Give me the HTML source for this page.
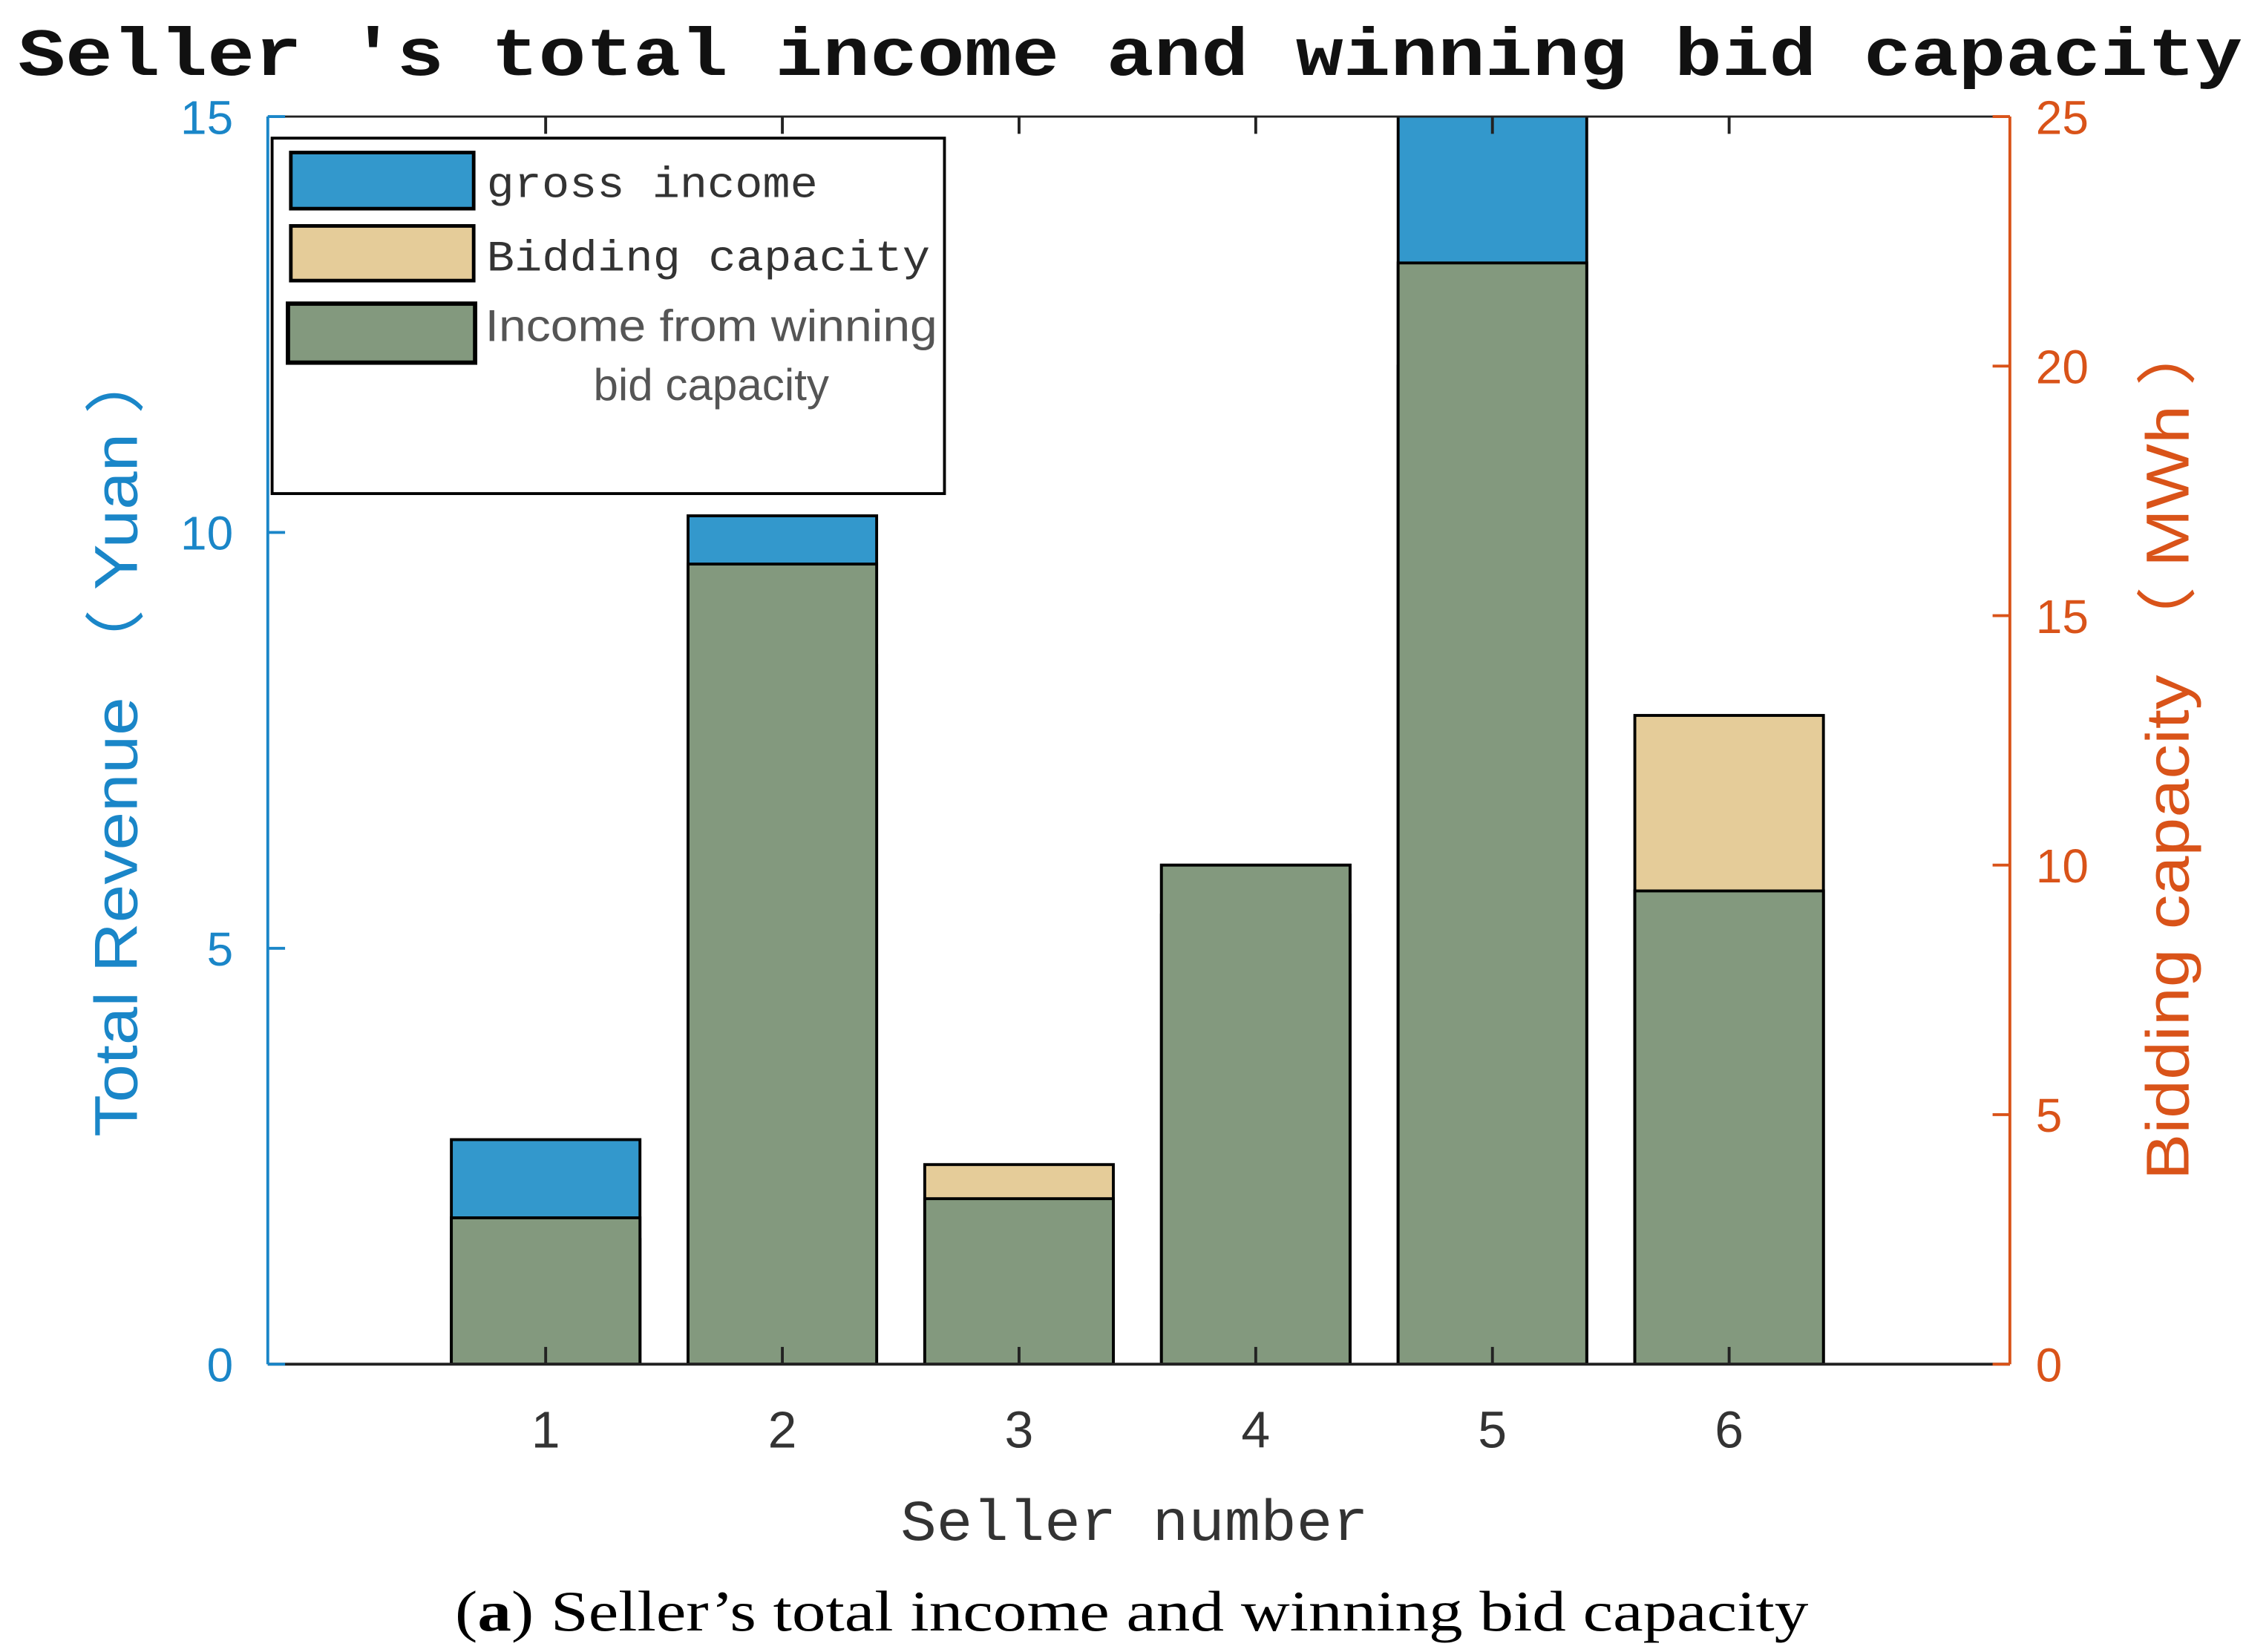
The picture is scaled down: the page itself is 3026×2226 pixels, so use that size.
<!DOCTYPE html>
<html><head><meta charset="utf-8"><style>
html,body{margin:0;padding:0;background:#fff;}
svg{display:block;}
</style></head><body>
<svg id="chart" width="3026" height="2226" viewBox="0 0 1560 1148" preserveAspectRatio="none" xmlns="http://www.w3.org/2000/svg">
<rect width="1560" height="1148" fill="#fff"/>
<text x="785" y="52" text-anchor="middle" font-family="'Liberation Mono', monospace" font-weight="bold" font-size="47" fill="#111" textLength="1545" lengthAdjust="spacingAndGlyphs">Seller 's total income and winning bid capacity</text>
<g id="bars"></g>
<g id="axes"></g>
<g>
<rect x="189" y="96" width="467" height="247" fill="#fff" stroke="#000" stroke-width="2"/>
<rect x="202" y="106" width="127" height="39" fill="#3398cc" stroke="#000" stroke-width="2.5"/>
<text x="338" y="137" font-family="'Liberation Mono', monospace" font-size="30" fill="#333" textLength="230" lengthAdjust="spacingAndGlyphs">gross income</text>
<rect x="202" y="157" width="127" height="38" fill="#e5cc99" stroke="#000" stroke-width="2.5"/>
<text x="338" y="188" font-family="'Liberation Mono', monospace" font-size="30" fill="#333" textLength="308" lengthAdjust="spacingAndGlyphs">Bidding capacity</text>
<rect x="200" y="211" width="130" height="41" fill="#83997e" stroke="#000" stroke-width="3"/>
<text x="494" y="237" text-anchor="middle" font-family="'Liberation Sans', sans-serif" font-size="31" fill="#555" textLength="314" lengthAdjust="spacingAndGlyphs">Income from winning</text>
<text x="494" y="278" text-anchor="middle" font-family="'Liberation Sans', sans-serif" font-size="31" fill="#555">bid capacity</text>
</g>
<text transform="translate(95,515) rotate(-90)" text-anchor="middle" font-family="'Liberation Sans', sans-serif" font-size="42" fill="#1a86c8" textLength="550" lengthAdjust="spacingAndGlyphs">Total Revenue （ Yuan ）</text>
<text transform="translate(1520,520) rotate(-90)" text-anchor="middle" font-family="'Liberation Sans', sans-serif" font-size="42" fill="#d95319" textLength="600" lengthAdjust="spacingAndGlyphs">Bidding capacity （ MWh ）</text>
<text x="788" y="1070" text-anchor="middle" font-family="'Liberation Mono', monospace" font-size="40" fill="#333" textLength="325" lengthAdjust="spacingAndGlyphs">Seller number</text>
<text x="786" y="1133" text-anchor="middle" font-family="'Liberation Serif', serif" font-size="40" fill="#000" textLength="940" lengthAdjust="spacingAndGlyphs">(<tspan font-weight="bold">a</tspan>) Seller’s total income and winning bid capacity</text>
</svg>
<script>
const sellers = [1, 2, 3, 4, 5, 6];
const grossIncome = [2.7, 10.2, 1.99, 6.0, 16, 5.69];
const biddingCapacity = [2.5, 14, 4.0, 9, 20, 13.0];
const winningIncome = [1.76, 9.62, 1.99, 6.0, 13.24, 5.69];
const leftTicks = [0, 5, 10, 15];
const rightTicks = [0, 5, 10, 15, 20, 25];

const NS = 'http://www.w3.org/2000/svg';
const L = 186, R = 1396, T = 81, B = 948;
const yL = v => B - v / 15 * (B - T);
const yR = v => B - v / 25 * (B - T);
const xS = i => 379 + (i - 1) * 164.4;
const BW = 131;

function mk(tag, attrs, parent) {
  const e = document.createElementNS(NS, tag);
  for (const k in attrs) e.setAttribute(k, attrs[k]);
  parent.appendChild(e);
  return e;
}
const svg = document.getElementById('chart');
const bars = document.getElementById('bars');
const axes = document.getElementById('axes');
const clip = mk('clipPath', {id: 'pc'}, svg);
mk('rect', {x: L, y: T, width: R - L, height: B - T}, clip);
bars.setAttribute('clip-path', 'url(#pc)');

function bar(x, yTop, fill, name) {
  const r = mk('rect', {x: x - BW / 2, y: yTop, width: BW, height: B - yTop, fill: fill, stroke: '#000', 'stroke-width': 2}, bars);
  
  
}
sellers.forEach((s, i) => bar(xS(s), yL(grossIncome[i]), '#3398cc', 'bar-gross-income-' + s));
sellers.forEach((s, i) => bar(xS(s), yR(biddingCapacity[i]), '#e5cc99', 'bar-bidding-capacity-' + s));
sellers.forEach((s, i) => bar(xS(s), yL(winningIncome[i]), '#83997e', 'bar-winning-income-' + s));

// axes lines
mk('line', {x1: L, y1: T, x2: R, y2: T, stroke: '#222', 'stroke-width': 1.5}, axes);
mk('line', {x1: L, y1: B, x2: R, y2: B, stroke: '#222', 'stroke-width': 2}, axes);
mk('line', {x1: L, y1: T, x2: L, y2: B, stroke: '#1a86c8', 'stroke-width': 2}, axes);
mk('line', {x1: R, y1: T, x2: R, y2: B, stroke: '#d95319', 'stroke-width': 2}, axes);

leftTicks.forEach(v => {
  const y = yL(v);
  mk('line', {x1: L, y1: y, x2: L + 12, y2: y, stroke: '#1a86c8', 'stroke-width': 2}, axes);
  const t = mk('text', {x: L - 24, y: y + 12, 'text-anchor': 'end', 'font-family': "'Liberation Sans', sans-serif", 'font-size': 33, fill: '#1a86c8'}, axes);
  t.textContent = v;
  
  
});
rightTicks.forEach(v => {
  const y = yR(v);
  mk('line', {x1: R - 12, y1: y, x2: R, y2: y, stroke: '#d95319', 'stroke-width': 2}, axes);
  const t = mk('text', {x: R + 18, y: y + 12, 'text-anchor': 'start', 'font-family': "'Liberation Sans', sans-serif", 'font-size': 33, fill: '#d95319'}, axes);
  t.textContent = v;
  
  
});
sellers.forEach(s => {
  const x = xS(s);
  mk('line', {x1: x, y1: B, x2: x, y2: B - 12, stroke: '#222', 'stroke-width': 2}, axes);
  mk('line', {x1: x, y1: T, x2: x, y2: T + 12, stroke: '#222', 'stroke-width': 2}, axes);
  const t = mk('text', {x: x, y: B + 58, 'text-anchor': 'middle', 'font-family': "'Liberation Sans', sans-serif", 'font-size': 36, fill: '#333'}, axes);
  t.textContent = s;
  
  
});
</script>
</body></html>
